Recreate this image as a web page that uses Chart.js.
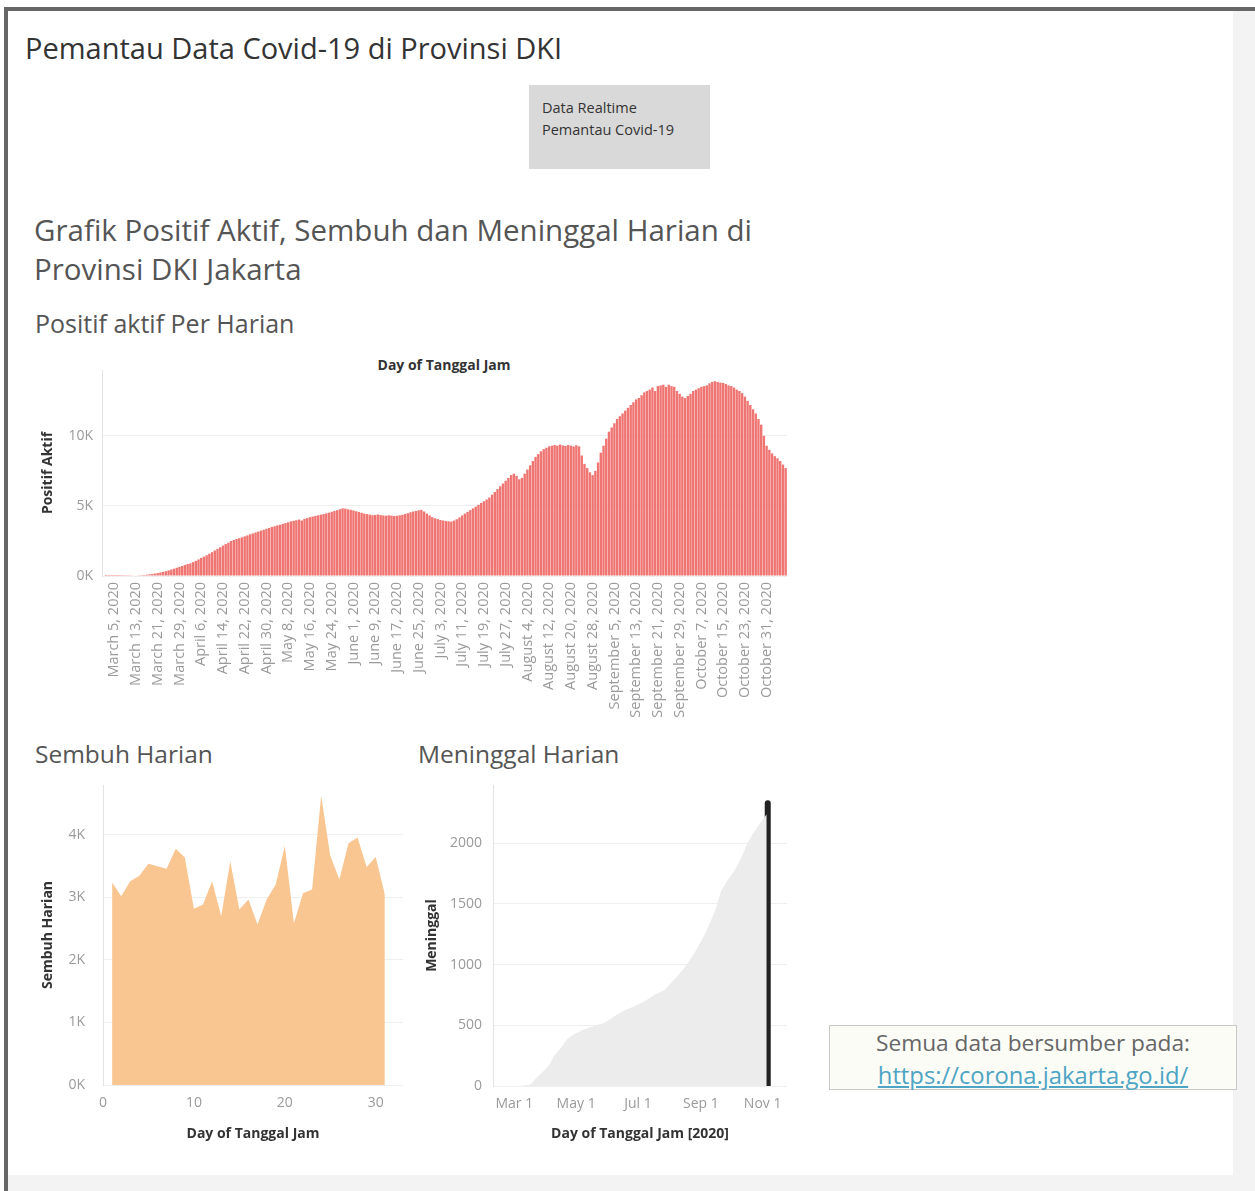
<!DOCTYPE html>
<html>
<head>
<meta charset="utf-8">
<script src="https://cdn.jsdelivr.net/npm/chart.js@4.4.0/dist/chart.umd.min.js"></script>
<style>
  body { margin: 0; width: 1255px; height: 1191px; position: relative; overflow: hidden; background: #fff; font-family: "Open Sans", sans-serif; }
  .abs { position: absolute; }
  #frame { left: 4px; top: 7px; right: 0; bottom: 0; border-top: 4px solid #666; border-left: 4px solid #666; background: #f3f3f3; }
  #inner { left: 8px; top: 11px; width: 1225px; height: 1164px; background: #fff; }
  .judul { color: #333; font-size: 29px; line-height: 34px; white-space: nowrap; }
  .sub { color: #555; white-space: nowrap; }
  #kotak { left: 529px; top: 85px; width: 181px; height: 84px; background: #d9d9d9; box-sizing: border-box; padding: 12px 0 0 13px; font-size: 14.5px; line-height: 22px; color: #333; }
  .axtitle { font-size: 14px; font-weight: bold; color: #333; white-space: nowrap; transform: translateX(-50%); }
  #sumber { left: 829px; top: 1025px; width: 408px; height: 65px; border: 1px solid #c8c8c8; background: #fcfcf6; box-sizing: border-box; text-align: center; font-size: 22.7px; line-height: 32px; color: #666; padding-top: 1px; }
  #sumber a { color: #4ea4c4; font-size: 23.8px; }
  canvas { position: absolute; }
</style>
</head>
<body>
<div id="frame" class="abs"></div>
<div id="inner" class="abs"></div>
<div class="abs judul" style="left:25px; top:31px;">Pemantau Data Covid-19 di Provinsi DKI</div>
<div id="kotak" class="abs">Data Realtime<br>Pemantau Covid-19</div>
<div class="abs sub" style="left:34px; top:210px; font-size:29.5px; line-height:39px;">Grafik Positif Aktif, Sembuh dan Meninggal Harian di<br>Provinsi DKI Jakarta</div>
<div class="abs sub" style="left:35px; top:308px; font-size:25px; line-height:30px;">Positif aktif Per Harian</div>
<div class="abs axtitle" style="left:444px; top:355px;">Day of Tanggal Jam</div>
<div class="abs sub" style="left:35px; top:739px; font-size:24.5px; line-height:30px;">Sembuh Harian</div>
<div class="abs sub" style="left:418px; top:739px; font-size:24.5px; line-height:30px;">Meninggal Harian</div>
<div id="sumber" class="abs">Semua data bersumber pada:<br><a href="https://corona.jakarta.go.id/">https://corona.jakarta.go.id/</a></div>

<canvas id="grafikPositif" width="770" height="390" style="left:30px; top:340px;"></canvas>
<canvas id="grafikSembuh" width="390" height="375" style="left:30px; top:775px;"></canvas>
<canvas id="grafikMeninggal" width="390" height="375" style="left:415px; top:775px;"></canvas>

<script>
// Positif aktif harian, mulai 1 Maret 2020 (label tanggal tiap 8 hari mulai 5 Maret)
const tanggalAwal = '2020-03-01';
const positifAktif = [
  0, 1, 1, 2,
  2, 2, 4, 6, 10, 14,
  20, 28, 38, 50, 62, 75, 95,
  120,
  150, 180, 210, 250, 290, 340, 400,
  460, 520, 590, 650, 720, 790, 860,
  900, 990, 1080, 1180, 1290, 1380, 1480, 1590,
  1700, 1820, 1940, 2050, 2170, 2280, 2380, 2500,
  2570, 2640, 2700, 2760, 2830, 2900, 2980,
  3040, 3110, 3170, 3240, 3300, 3370, 3430, 3500,
  3550, 3610, 3660, 3720, 3780, 3830, 3900,
  3940, 3980, 4030, 3960, 4080, 4130, 4200,
  4240, 4290, 4330, 4380, 4420, 4470, 4520, 4580,
  4640, 4700, 4760, 4830, 4810,
  4760, 4720, 4680, 4620, 4570, 4510, 4450,
  4420, 4380, 4340, 4360, 4390, 4350, 4320, 4300, 4330, 4310, 4280, 4300,
  4330, 4370, 4420, 4480, 4550, 4600, 4640, 4690, 4720,
  4600, 4450, 4320, 4200, 4120,
  4060, 4000, 3960, 3920, 3900, 3880,
  3950, 4050, 4180, 4320, 4450, 4580, 4700,
  4830, 4950, 5080, 5210, 5330, 5460, 5600,
  5800, 6000, 6200, 6400, 6600,
  6800, 7000, 7200, 7300,
  7150, 6900, 7000,
  7300, 7600, 7900, 8200, 8500,
  8700, 8900, 9050, 9150, 9250, 9300,
  9350, 9300, 9380, 9320, 9280, 9350, 9300, 9250, 9330, 9250,
  8600, 8000, 7700, 7400, 7200,
  7500, 8100, 8800, 9300,
  9800, 10300, 10600, 10900, 11200, 11400, 11600, 11800,
  12000, 12200, 12400, 12600, 12700,
  12900, 13100, 13200, 13300, 13450,
  13200, 13550, 13600, 13650, 13500, 13650, 13550, 13500,
  13200, 13000, 12800, 12700,
  12850, 13000, 13200, 13300, 13400,
  13500, 13550, 13600, 13750, 13850, 13900,
  13850, 13800, 13780, 13700, 13600,
  13550, 13450, 13300, 13200, 13050,
  12800, 12500, 12200, 11900, 11600,
  11200, 10800, 10000, 9300,
  9000, 8750, 8550, 8400, 8200, 7950, 7700
];
const positifTicks = [0, 5000, 10000];

// Sembuh harian per tanggal (hari ke-)
const hariSembuh = [1, 2, 3, 4, 5, 6, 7, 8, 9, 10, 11, 12, 13, 14, 15, 16, 17, 18, 19, 20, 21, 22, 23, 24, 25, 26, 27, 28, 29, 30, 31];
const sembuhHarian = [3240, 3020, 3260, 3350, 3540, 3500, 3460, 3780, 3640, 2820, 2890, 3260, 2700, 3580, 2810, 2970, 2570, 2970, 3210, 3830, 2590, 3070, 3130, 4630, 3670, 3290, 3870, 3960, 3490, 3650, 3050];
const sembuhTicksX = [0, 10, 20, 30];
const sembuhTicksY = [0, 1000, 2000, 3000, 4000];

// Meninggal (kumulatif)
const tanggalMeninggal = ['2020-03-05', '2020-03-10', '2020-03-17', '2020-03-23', '2020-03-30', '2020-04-05', '2020-04-09', '2020-04-16',
  '2020-04-22', '2020-04-29', '2020-05-09', '2020-05-19', '2020-05-29', '2020-06-08', '2020-06-18', '2020-06-28', '2020-07-08',
  '2020-07-17', '2020-07-27', '2020-08-06', '2020-08-16', '2020-08-26', '2020-09-05', '2020-09-15', '2020-09-21', '2020-09-28',
  '2020-10-04', '2020-10-11', '2020-10-17', '2020-10-24', '2020-10-31', '2020-11-05'];
const meninggal = [0, 3, 14, 69, 124, 179, 247, 316, 385, 426, 467, 495, 522, 577, 624, 659, 700, 750, 788, 879, 975, 1099, 1250, 1442, 1607, 1703, 1772, 1882, 2005, 2102, 2184, 2239];
const tandaTerakhir = { tanggal: '2020-11-06', nilai: 2330 };
const tickTanggal = ['2020-03-01', '2020-05-01', '2020-07-01', '2020-09-01', '2020-11-01'];
const tickLabel = ['Mar 1', 'May 1', 'Jul 1', 'Sep 1', 'Nov 1'];
const meninggalTicksY = [0, 500, 1000, 1500, 2000];

const namaBulan = ['January', 'February', 'March', 'April', 'May', 'June', 'July', 'August', 'September', 'October', 'November', 'December'];

function hariKe(str) {
  const t = Date.parse(str + 'T00:00:00Z');
  return Math.round((t - Date.UTC(2020, 0, 1)) / 86400000) + 1;
}

const labelTanggal = positifAktif.map((_, i) => {
  const d = new Date(Date.parse(tanggalAwal + 'T00:00:00Z') + i * 86400000);
  return namaBulan[d.getUTCMonth()] + ' ' + d.getUTCDate() + ', ' + d.getUTCFullYear();
});

const FONT = '"Open Sans", sans-serif';
const tickFont = { family: FONT, size: 14 };
const titleFont = { family: FONT, size: 14, weight: 'bold' };
const gridColor = '#efefef';
const axisColor = '#e3e3e3';
const tickColor = '#9a9a9a';

// buang padding otomatis dari label supaya area plot pas
function tanpaPaddingX(w) { return s => { s.height = w; s.paddingLeft = 0; s.paddingRight = 0; }; }
function tanpaPaddingY(w) { return s => { s.width = w; s.paddingTop = 0; s.paddingBottom = 0; }; }

// Grafik 1 : positif aktif
new Chart(document.getElementById('grafikPositif'), {
  type: 'bar',
  data: {
    labels: labelTanggal,
    datasets: [{ data: positifAktif, backgroundColor: '#ef7572', barPercentage: 0.88, categoryPercentage: 1 }]
  },
  options: {
    responsive: false, animation: false,
    layout: { padding: { top: 30, right: 13, left: 0, bottom: 0 } },
    plugins: { legend: { display: false }, tooltip: { enabled: false } },
    scales: {
      x: {
        grid: { display: false, drawTicks: false }, border: { display: false },
        ticks: {
          autoSkip: false, maxRotation: 90, minRotation: 90, padding: 6, color: tickColor, font: { family: FONT, size: 14.5 },
          callback: function (v, i) { return i % 8 === 4 ? this.getLabelForValue(v) : ''; }
        },
        afterFit: tanpaPaddingX(154)
      },
      y: {
        min: 0, max: 14700,
        grid: { color: gridColor, drawTicks: false }, border: { color: axisColor },
        ticks: { color: tickColor, font: tickFont, padding: 9, callback: v => (v / 1000) + 'K' },
        afterBuildTicks: s => { s.ticks = positifTicks.map(v => ({ value: v })); },
        title: { display: true, text: 'Positif Aktif', color: '#333', font: titleFont, padding: { top: 10, bottom: 0 } },
        afterFit: tanpaPaddingY(72)
      }
    }
  }
});

// Grafik 2 : sembuh harian
new Chart(document.getElementById('grafikSembuh'), {
  type: 'line',
  data: {
    datasets: [{
      data: hariSembuh.map((h, i) => ({ x: h, y: sembuhHarian[i] })),
      fill: 'origin', backgroundColor: '#f9c590', borderWidth: 0, pointRadius: 0, tension: 0
    }]
  },
  options: {
    responsive: false, animation: false,
    layout: { padding: { top: 10, right: 17, left: 0, bottom: 0 } },
    plugins: { legend: { display: false }, tooltip: { enabled: false } },
    scales: {
      x: {
        type: 'linear', min: 0, max: 33,
        grid: { display: false, drawTicks: false }, border: { display: false },
        afterBuildTicks: s => { s.ticks = sembuhTicksX.map(v => ({ value: v })); },
        ticks: { color: tickColor, font: tickFont, padding: 10 },
        title: { display: true, text: 'Day of Tanggal Jam', color: '#333', font: titleFont, padding: { top: 0, bottom: 8 } },
        afterFit: tanpaPaddingX(65)
      },
      y: {
        min: 0, max: 4800,
        grid: { color: gridColor, drawTicks: false }, border: { color: axisColor },
        afterBuildTicks: s => { s.ticks = sembuhTicksY.map(v => ({ value: v })); },
        ticks: { color: tickColor, font: tickFont, padding: 18, callback: v => (v / 1000) + 'K' },
        title: { display: true, text: 'Sembuh Harian', color: '#333', font: titleFont, padding: { top: 10, bottom: 0 } },
        afterFit: tanpaPaddingY(73)
      }
    }
  }
});

// Grafik 3 : meninggal
const hariTanda = hariKe(tandaTerakhir.tanggal);
new Chart(document.getElementById('grafikMeninggal'), {
  type: 'line',
  data: {
    datasets: [
      {
        data: tanggalMeninggal.map((t, i) => ({ x: hariKe(t), y: meninggal[i] })),
        fill: 'origin', backgroundColor: '#ececec', borderWidth: 0, pointRadius: 0, tension: 0
      },
      {
        data: [{ x: hariTanda, y: 0 }, { x: hariTanda, y: tandaTerakhir.nilai }],
        borderColor: '#222', borderWidth: 6, borderCapStyle: 'round', pointRadius: 0, fill: false
      },
      {
        data: [{ x: hariTanda, y: 0 }, { x: hariTanda, y: tandaTerakhir.nilai }],
        borderColor: '#8a8a8a', borderWidth: 2, pointRadius: 0, fill: false
      }
    ]
  },
  options: {
    responsive: false, animation: false,
    layout: { padding: { top: 10, right: 18, left: 0, bottom: 0 } },
    plugins: { legend: { display: false }, tooltip: { enabled: false } },
    scales: {
      x: {
        type: 'linear', min: 40, max: 330,
        grid: { display: false, drawTicks: false }, border: { display: false },
        afterBuildTicks: s => { s.ticks = tickTanggal.map(t => ({ value: hariKe(t) })); },
        ticks: {
          color: tickColor, font: tickFont, padding: 10,
          callback: v => tickLabel[tickTanggal.findIndex(t => hariKe(t) === v)]
        },
        title: { display: true, text: 'Day of Tanggal Jam [2020]', color: '#333', font: titleFont, padding: { top: 0, bottom: 8 } },
        afterFit: tanpaPaddingX(64)
      },
      y: {
        min: 0, max: 2480,
        grid: { color: gridColor, drawTicks: false }, border: { color: axisColor },
        afterBuildTicks: s => { s.ticks = meninggalTicksY.map(v => ({ value: v })); },
        ticks: { color: tickColor, font: tickFont, padding: 11, callback: v => String(v) },
        title: { display: true, text: 'Meninggal', color: '#333', font: titleFont, padding: { top: 9, bottom: 0 } },
        afterFit: tanpaPaddingY(78)
      }
    }
  }
});
</script>
</body>
</html>
